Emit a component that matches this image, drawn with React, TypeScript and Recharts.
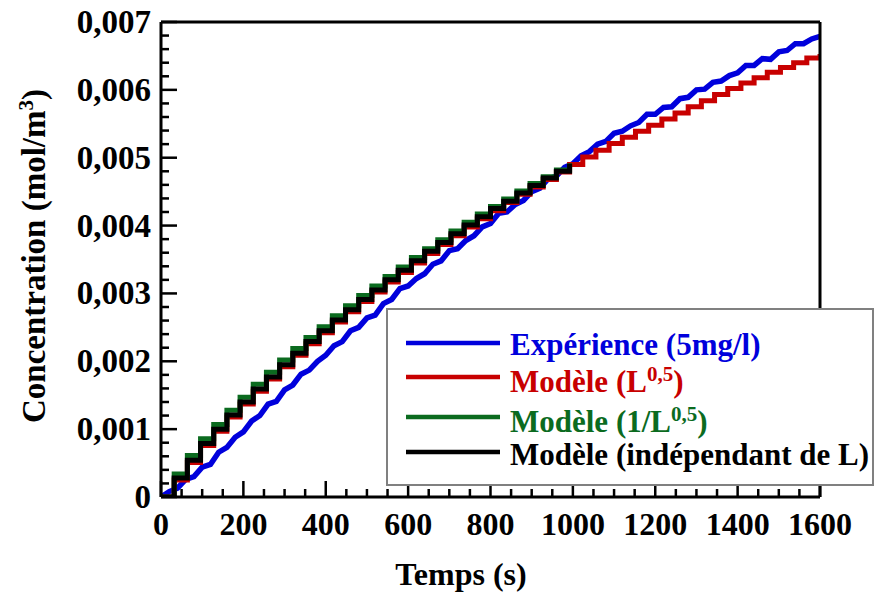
import React from "react";
import { LineChart, Line, XAxis, YAxis, ReferenceLine } from "recharts";

const FONT = '"Liberation Serif", "Times New Roman", serif';

const BLUE = "#0000dc";
const RED = "#c80000";
const GREEN = "#0b6b1f";
const BLACK = "#000000";

// Expérience (5mg/l), one reading every 20 s
const blueStep = 20;
const blueValues = [
  0, 0.00008, 0.00013, 0.00026, 0.0003, 0.00044, 0.00048, 0.00066, 0.00073, 0.00088,
  0.00096, 0.00112, 0.0012, 0.00137, 0.00141, 0.00158, 0.00165, 0.00181, 0.00187, 0.002,
  0.00209, 0.00223, 0.00229, 0.00245, 0.0025, 0.00264, 0.00268, 0.00285, 0.00291, 0.00307,
  0.00311, 0.00322, 0.00329, 0.00343, 0.00348, 0.00363, 0.00366, 0.00378, 0.00385, 0.00398,
  0.00403, 0.00418, 0.0042, 0.00431, 0.00437, 0.0045, 0.00455, 0.00469, 0.00473, 0.00486,
  0.00491, 0.00503, 0.00509, 0.0052, 0.00524, 0.00536, 0.00539, 0.00547, 0.00552, 0.00564,
  0.00564, 0.00574, 0.00575, 0.00587, 0.00589, 0.006, 0.00601, 0.00611, 0.00613, 0.00621,
  0.00625, 0.00636, 0.00636, 0.00646, 0.00645, 0.00656, 0.00658, 0.00668, 0.00668, 0.00675,
  0.00679,
];

// model outputs, one value every 32 s
const modelStep = 32;
const redModel = [
  0, 0.00025, 0.00051, 0.00076, 0.00097, 0.00118, 0.00137, 0.00156, 0.00174, 0.00192,
  0.00209, 0.00226, 0.00242, 0.00258, 0.00273, 0.00288, 0.00302, 0.00317, 0.00331, 0.00345,
  0.00359, 0.00372, 0.00385, 0.00398, 0.0041, 0.00422, 0.00434, 0.00446, 0.00457, 0.00468,
  0.00479, 0.0049, 0.00501, 0.00511, 0.00521, 0.0053, 0.00539, 0.00548, 0.00557, 0.00566,
  0.00575, 0.00584, 0.00593, 0.00602, 0.0061, 0.00618, 0.00626, 0.00633, 0.0064, 0.00647,
  0.00653,
];
const greenModel = [
  0, 0.00034, 0.00061, 0.00086, 0.00107, 0.00128, 0.00147, 0.00166, 0.00184, 0.00202,
  0.00219, 0.00235, 0.00251, 0.00267, 0.00282, 0.00297, 0.00311, 0.00325, 0.00339, 0.00353,
  0.00366, 0.00379, 0.00392, 0.00405, 0.00417, 0.00428, 0.00439, 0.00451, 0.00462, 0.00472,
  0.00482, 0.00492,
];
const blackModel = [
  0, 0.00028, 0.00054, 0.00079, 0.001, 0.00121, 0.0014, 0.00159, 0.00177, 0.00195,
  0.00212, 0.00229, 0.00245, 0.00261, 0.00276, 0.00291, 0.00305, 0.0032, 0.00334, 0.00348,
  0.00362, 0.00375, 0.00388, 0.00401, 0.00413, 0.00425, 0.00436, 0.00448, 0.00459, 0.0047,
  0.0048, 0.00491,
];

const xTicks = Array.from({ length: 33 }, (_, i) => i * 50);
const yTicks = Array.from({ length: 36 }, (_, i) => Number((i * 0.0002).toFixed(4)));

const toSeries = (values: number[], step: number) =>
  values.map((c, i) => ({ t: i * step, c }));

const blueData = toSeries(blueValues, blueStep);
const redData = toSeries(redModel, modelStep);
const greenData = toSeries(greenModel, modelStep);
const blackData = toSeries(blackModel, modelStep);

const TICK_GAP = 10;

const isMajorY = (v: number) => Math.abs(v / 0.001 - Math.round(v / 0.001)) < 1e-6;
const fmtY = (v: number) => (v === 0 ? "0" : v.toFixed(3).replace(".", ","));

function YTick(props: any) {
  const { x, y, payload } = props;
  const v = payload.value as number;
  const lineX = x + TICK_GAP;
  const major = isMajorY(v);
  return (
    <g>
      <line x1={lineX} x2={lineX + (major ? 16 : 8)} y1={y} y2={y} stroke="#000" strokeWidth={2.5} />
      {major && (
        <text x={x} y={y + 11} textAnchor="end" fontFamily={FONT} fontWeight="bold" fontSize={33} fill="#000">
          {fmtY(v)}
        </text>
      )}
    </g>
  );
}

function XTick(props: any) {
  const { x, y, payload } = props;
  const v = payload.value as number;
  const lineY = y - TICK_GAP;
  const major = v % 200 === 0;
  return (
    <g>
      <line x1={x} x2={x} y1={lineY} y2={lineY - (major ? 16 : 8)} stroke="#000" strokeWidth={2.5} />
      {major && (
        <text x={x} y={lineY + 38} textAnchor="middle" fontFamily={FONT} fontWeight="bold" fontSize={32} fill="#000">
          {v}
        </text>
      )}
    </g>
  );
}

const legendRows = [
  { color: BLUE, lineY: 343, textY: 355, main: "Expérience (5mg/l)", sup: "", tail: "" },
  { color: RED, lineY: 377, textY: 392, main: "Modèle (L", sup: "0,5", tail: ")" },
  { color: GREEN, lineY: 417, textY: 432, main: "Modèle (1/L", sup: "0,5", tail: ")" },
  { color: BLACK, lineY: 452, textY: 465, main: "Modèle (indépendant de L)", sup: "", tail: "" },
];

export default function App() {
  return (
    <div style={{ position: "relative", width: 877, height: 592, background: "#fff" }}>
      <style>{`body{margin:0;}`}</style>
      <LineChart width={877} height={592} margin={{ top: 22, right: 57, bottom: 35, left: 80 }}>
        <XAxis
          dataKey="t"
          type="number"
          domain={[0, 1600]}
          ticks={xTicks}
          interval={0}
          allowDataOverflow
          height={60}
          tickSize={0}
          tickMargin={TICK_GAP}
          tickLine={false}
          axisLine={{ stroke: "#000", strokeWidth: 3 }}
          tick={(p: any) => <XTick {...p} />}
        />
        <YAxis
          type="number"
          domain={[0, 0.007]}
          ticks={yTicks}
          interval={0}
          allowDataOverflow
          width={81}
          tickSize={0}
          tickMargin={TICK_GAP}
          tickLine={false}
          axisLine={{ stroke: "#000", strokeWidth: 3 }}
          tick={(p: any) => <YTick {...p} />}
        />
        <Line data={blueData} dataKey="c" type="linear" stroke={BLUE} strokeWidth={5.5} dot={false} isAnimationActive={false} />
        <Line data={redData} dataKey="c" type="stepAfter" stroke={RED} strokeWidth={5} strokeLinejoin="miter" dot={false} isAnimationActive={false} />
        <Line data={greenData} dataKey="c" type="stepAfter" stroke={GREEN} strokeWidth={5} strokeLinejoin="miter" dot={false} isAnimationActive={false} />
        <Line data={blackData} dataKey="c" type="stepAfter" stroke={BLACK} strokeWidth={5} strokeLinejoin="miter" dot={false} isAnimationActive={false} />
        <ReferenceLine y={0.007} stroke="#000" strokeWidth={3} />
        <ReferenceLine x={1600} stroke="#000" strokeWidth={3} />
      </LineChart>
      <svg width={877} height={592} style={{ position: "absolute", left: 0, top: 0, pointerEvents: "none" }}>
        <text
          x={45}
          y={256}
          transform="rotate(-90 45 256)"
          textAnchor="middle"
          fontFamily={FONT}
          fontWeight="bold"
          fontSize={33}
          fill="#000"
        >
          Concentration (mol/m<tspan dy={-12} fontSize={21}>3</tspan>
          <tspan dy={12}>)</tspan>
        </text>
        <text x={461} y={585} textAnchor="middle" fontFamily={FONT} fontWeight="bold" fontSize={32} fill="#000">
          Temps (s)
        </text>
        <rect x={387} y={309} width={486} height={176} fill="#fff" stroke="#808080" strokeWidth={2} />
        {legendRows.map((r) => (
          <g key={r.main}>
            <line x1={406} x2={500} y1={r.lineY} y2={r.lineY} stroke={r.color} strokeWidth={4.5} />
            <text x={510} y={r.textY} fontFamily={FONT} fontWeight="bold" fontSize={31} fill={r.color}>
              {r.main}
              {r.sup && (
                <tspan dy={-11} fontSize={21}>
                  {r.sup}
                </tspan>
              )}
              {r.tail && <tspan dy={11}>{r.tail}</tspan>}
            </text>
          </g>
        ))}
      </svg>
    </div>
  );
}
